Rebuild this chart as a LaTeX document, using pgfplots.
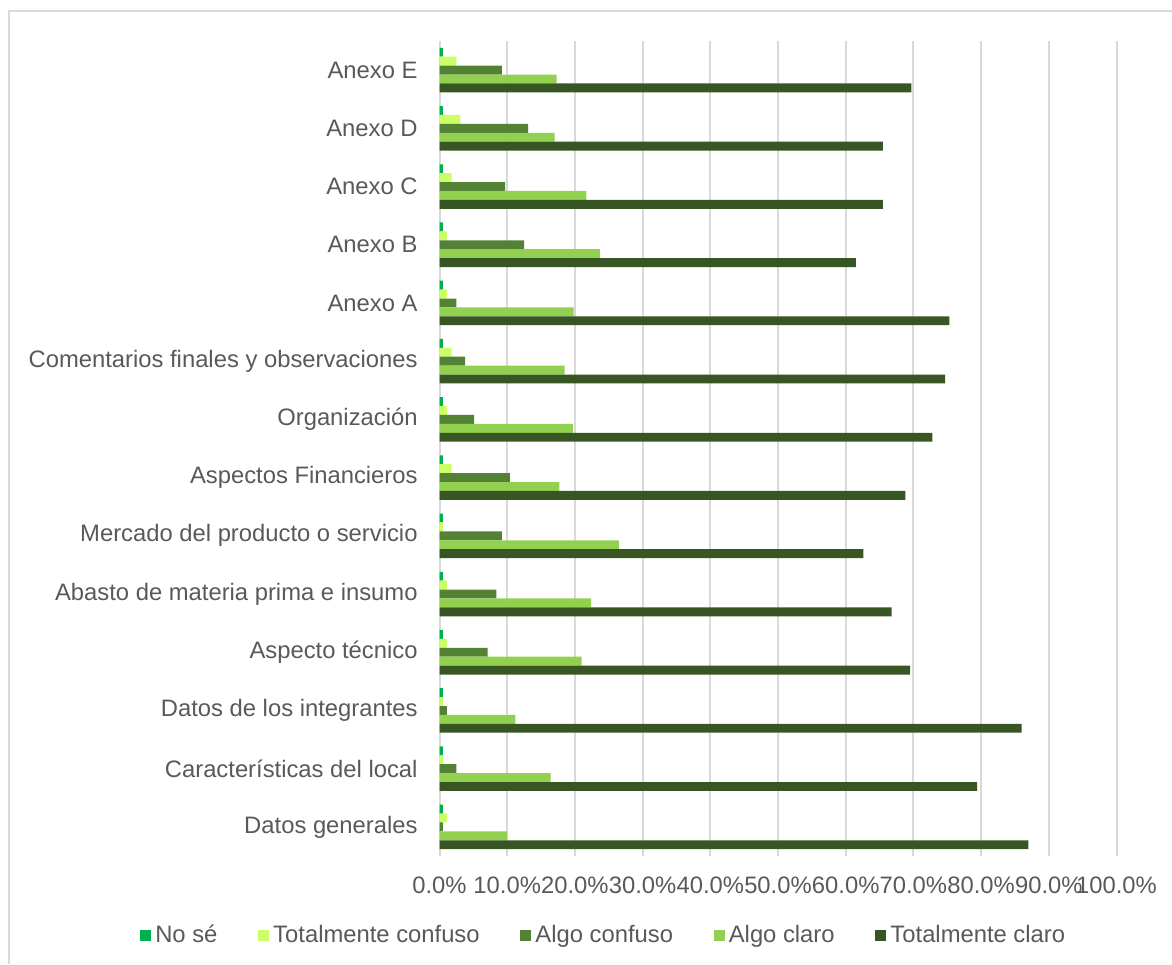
\documentclass[border=0pt]{standalone}
\usepackage{pgfplots}
\pgfplotsset{compat=1.18}
\usepackage{fontspec}
\setmainfont{Liberation Sans}
\definecolor{cNoSe}{HTML}{00B050}
\definecolor{cTC}{HTML}{CCFF66}
\definecolor{cAC}{HTML}{548235}
\definecolor{cACl}{HTML}{92D050}
\definecolor{cTCl}{HTML}{375623}
\definecolor{txt}{HTML}{595959}
\definecolor{grid}{HTML}{D9D9D9}
\begin{document}
\begin{tikzpicture}
\useasboundingbox (0,0) rectangle (586pt,482pt);
\draw[grid, line width=1.2pt] (4.5pt,0) -- (4.5pt,476.5pt) -- (586pt,476.5pt);
\begin{axis}[
  at={(219.75pt,54pt)}, anchor=south west,
  scale only axis, width=338.5pt, height=407.5pt,
  xmin=0, xmax=100, ymin=-0.5, ymax=13.5,
  xbar, bar width=0.153,
  xtick={0,10,...,100},
  xticklabels={0.0\%,10.0\%,20.0\%,30.0\%,40.0\%,50.0\%,60.0\%,70.0\%,80.0\%,90.0\%,100.0\%},
  ytick={0,...,13},
  yticklabels={Datos generales,Características del local,Datos de los integrantes,Aspecto técnico,Abasto de materia prima e insumo,Mercado del producto o servicio,Aspectos Financieros,Organización,Comentarios finales y observaciones,Anexo A,Anexo B,Anexo C,Anexo D,Anexo E},
  tick style={draw=none},
  xmajorgrids=true, ymajorgrids=false,
  major x grid style={grid, line width=1pt},
  major y grid style={draw=none},
  axis line style={draw=none},
  axis x line*=bottom, axis y line*=left,
  tick label style={font=\fontsize{11.9}{14}\selectfont, text=txt, inner sep=0pt},
  yticklabel style={xshift=-6.5pt},
  xticklabel style={yshift=-10pt, anchor=north},
  legend columns=5,
  legend style={draw=none, at={(0.244,-0.097)}, anchor=center, font=\fontsize{11.9}{14}\selectfont, text=txt,
    /tikz/every even column/.append style={column sep=18.4pt}, inner sep=0pt},
  legend cell align=left,
  legend image code/.code={\fill[#1] (0pt,-2.75pt) rectangle (5.5pt,2.75pt);},
]
\draw[grid, line width=1.2pt] (axis cs:0,-0.5) -- (axis cs:0,13.5);
\addplot[fill=cNoSe, draw=none, bar shift=0.306] coordinates {
(0.5,0) (0.5,1) (0.5,2) (0.5,3) (0.5,4) (0.5,5) (0.5,6) (0.5,7) (0.5,8) (0.5,9) (0.5,10) (0.5,11) (0.5,12) (0.5,13)};
\addplot[fill=cTC, draw=none, bar shift=0.153] coordinates {
(1.1,0) (0.5,1) (0.5,2) (1.1,3) (1.1,4) (0.5,5) (1.8,6) (1.1,7) (1.8,8) (1.1,9) (1.1,10) (1.8,11) (3.1,12) (2.5,13)};
\addplot[fill=cAC, draw=none, bar shift=0] coordinates {
(0.5,0) (2.5,1) (1.1,2) (7.1,3) (8.4,4) (9.2,5) (10.4,6) (5.1,7) (3.8,8) (2.5,9) (12.5,10) (9.7,11) (13.1,12) (9.2,13)};
\addplot[fill=cACl, draw=none, bar shift=-0.153] coordinates {
(10.0,0) (16.4,1) (11.2,2) (21.0,3) (22.4,4) (26.5,5) (17.7,6) (19.7,7) (18.5,8) (19.8,9) (23.7,10) (21.7,11) (17.0,12) (17.3,13)};
\addplot[fill=cTCl, draw=none, bar shift=-0.306] coordinates {
(87.0,0) (79.4,1) (86.0,2) (69.5,3) (66.8,4) (62.6,5) (68.8,6) (72.8,7) (74.7,8) (75.3,9) (61.5,10) (65.5,11) (65.5,12) (69.7,13)};
\legend{No sé, Totalmente confuso, Algo confuso, Algo claro, Totalmente claro}
\end{axis}
\end{tikzpicture}
\end{document}
